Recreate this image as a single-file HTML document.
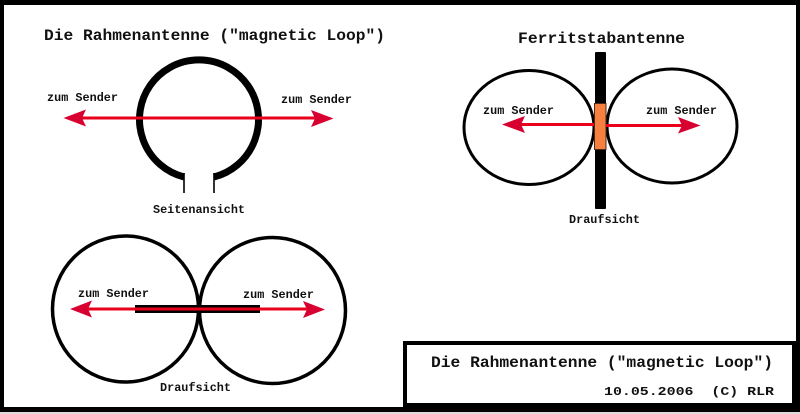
<!DOCTYPE html>
<html lang="de">
<head>
<meta charset="utf-8">
<title>Die Rahmenantenne</title>
<style>
html,body{margin:0;padding:0;background:#fff}
svg{display:block}
text{font-family:"Liberation Mono",monospace;font-weight:bold;fill:#111}
.s{font-size:11.5px}
.t{font-size:15.5px}
</style>
</head>
<body>
<svg width="800" height="414" viewBox="0 0 800 414" xmlns="http://www.w3.org/2000/svg">
<rect width="800" height="414" fill="#000"/>
<rect x="0" y="412" width="800" height="2" fill="#ddd"/>
<rect x="4" y="5" width="792" height="402" fill="#fff"/>
<!-- title box -->
<rect x="403" y="341" width="397" height="71" fill="#000"/>
<rect x="407" y="345" width="385" height="58" fill="#fff"/>

<!-- Rahmenantenne -->
<path d="M184 177 A59.5 59.5 0 1 1 214 177" fill="none" stroke="#000" stroke-width="7"/>
<path d="M184 173V193M214 173V193" fill="none" stroke="#000" stroke-width="1.6"/>
<path d="M80 118H316" stroke="#e8001c" stroke-width="3"/>
<path d="M63.500 118L86 109.500L82 118L86 126.500Z" fill="#d80030"/>
<path d="M333.500 118.500L311 110L315 118.500L311 127Z" fill="#d80030"/>

<!-- Ferritstabantenne -->
<ellipse cx="529" cy="127.500" rx="65" ry="57" fill="none" stroke="#000" stroke-width="3"/>
<ellipse cx="672" cy="126" rx="65" ry="57" fill="none" stroke="#000" stroke-width="3"/>
<rect x="595" y="52" width="11" height="157" rx="1" fill="#000"/>
<rect x="594.500" y="103.500" width="11.500" height="46" fill="#f58040" stroke="#4a2a1a" stroke-width="1"/>
<path d="M518 124.500H594M606 125.500H685" stroke="#e8001c" stroke-width="3"/>
<path d="M502 124.500L525 116L521 124.500L525 133Z" fill="#d80030"/>
<path d="M700.500 125.500L678 117L682 125.500L678 133.500Z" fill="#d80030"/>

<!-- Draufsicht unten -->
<circle cx="125.500" cy="309" r="73" fill="none" stroke="#000" stroke-width="3.500"/>
<circle cx="272.500" cy="310.500" r="73" fill="none" stroke="#000" stroke-width="3.500"/>
<rect x="135" y="305" width="125" height="8" fill="#000"/>
<path d="M86 309H310" stroke="#e8001c" stroke-width="3"/>
<path d="M70 309L92 300.500L88 309L92 317.500Z" fill="#d80030"/>
<path d="M325 309.500L303 301L307 309.500L303 318Z" fill="#d80030"/>

<!-- Text -->
<text class="t" x="44" y="40" textLength="341" lengthAdjust="spacingAndGlyphs">Die Rahmenantenne ("magnetic Loop")</text>
<text class="t" x="518" y="43" textLength="167" lengthAdjust="spacingAndGlyphs">Ferritstabantenne</text>
<text class="t" x="431" y="367" textLength="342" lengthAdjust="spacingAndGlyphs">Die Rahmenantenne ("magnetic Loop")</text>
<text class="s" x="604" y="395" textLength="170" lengthAdjust="spacingAndGlyphs" xml:space="preserve">10.05.2006  (C) RLR</text>
<text class="s" x="47" y="101" textLength="71" lengthAdjust="spacingAndGlyphs">zum Sender</text>
<text class="s" x="281" y="103" textLength="71" lengthAdjust="spacingAndGlyphs">zum Sender</text>
<text class="s" x="153" y="213" textLength="92" lengthAdjust="spacingAndGlyphs">Seitenansicht</text>
<text class="s" x="483" y="114" textLength="71" lengthAdjust="spacingAndGlyphs">zum Sender</text>
<text class="s" x="646" y="114" textLength="71" lengthAdjust="spacingAndGlyphs">zum Sender</text>
<text class="s" x="569" y="223" textLength="71" lengthAdjust="spacingAndGlyphs">Draufsicht</text>
<text class="s" x="78" y="297" textLength="71" lengthAdjust="spacingAndGlyphs">zum Sender</text>
<text class="s" x="243" y="298" textLength="71" lengthAdjust="spacingAndGlyphs">zum Sender</text>
<text class="s" x="160" y="391" textLength="71" lengthAdjust="spacingAndGlyphs">Draufsicht</text>
</svg>
</body>
</html>
